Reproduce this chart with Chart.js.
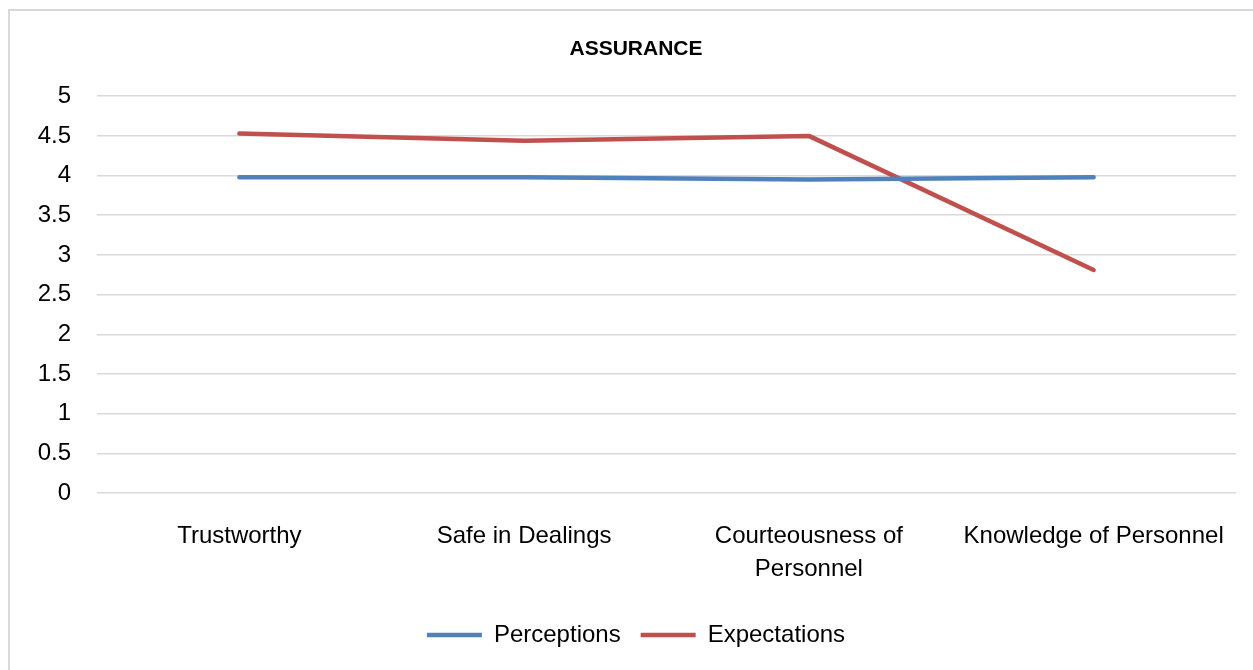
<!DOCTYPE html>
<html>
<head>
<meta charset="utf-8">
<script src="https://cdn.jsdelivr.net/npm/chart.js@4.4.1/dist/chart.umd.min.js"></script>
<style>
  html, body { margin:0; padding:0; background:#fff; }
  #wrap { position:relative; width:1253px; height:670px; }
  #frame { position:absolute; left:8px; top:9px; width:1243px; height:659px; border:2px solid #d9d9d9; pointer-events:none; }
  canvas { position:absolute; left:0; top:0; }
</style>
</head>
<body>
<div id="wrap">
  <canvas id="chart" width="1253" height="670"></canvas>
  <div id="frame"></div>
</div>
<script>
const categories = ["Trustworthy", "Safe in Dealings", ["Courteousness of", "Personnel"], "Knowledge of Personnel"];
const perceptions = [3.98, 3.98, 3.95, 3.98];
const expectations = [4.53, 4.44, 4.50, 2.81];
const yTicks = [0, 0.5, 1, 1.5, 2, 2.5, 3, 3.5, 4, 4.5, 5];

const FONT = "'Liberation Sans', Arial, sans-serif";

const ctx = document.getElementById("chart").getContext("2d");
new Chart(ctx, {
  type: "line",
  data: {
    labels: categories,
    datasets: [
      {
        label: "Perceptions",
        data: perceptions,
        borderColor: "#4f81bd",
        backgroundColor: "#4f81bd",
        borderWidth: 4.5,
        borderCapStyle: "round",
        borderJoinStyle: "round",
        pointRadius: 0,
        tension: 0
      },
      {
        label: "Expectations",
        data: expectations,
        borderColor: "#c0504d",
        backgroundColor: "#c0504d",
        borderWidth: 4.5,
        borderCapStyle: "round",
        borderJoinStyle: "round",
        pointRadius: 0,
        tension: 0
      }
    ]
  },
  options: {
    responsive: false,
    animation: false,
    layout: { padding: { top: 37, right: 17, bottom: 13, left: 36 } },
    plugins: {
      title: {
        display: true,
        text: "ASSURANCE",
        color: "#000",
        font: { family: FONT, size: 21, weight: "bold" },
        padding: { top: 0, bottom: 34 }
      },
      legend: {
        position: "bottom",
        labels: {
          usePointStyle: true,
          pointStyle: "line",
          pointStyleWidth: 55,
          boxHeight: 5,
          color: "#000",
          font: { family: FONT, size: 24 },
          padding: 20
        }
      },
      tooltip: { enabled: false }
    },
    scales: {
      x: {
        offset: true,
        grid: { display: false, drawTicks: false },
        border: { display: false },
        ticks: {
          color: "#000",
          font: { family: FONT, size: 24, lineHeight: 1.375 },
          padding: 27,
          maxRotation: 0,
          autoSkip: false
        },
        afterFit: (axis) => { axis.height = 110; }
      },
      y: {
        min: 0,
        max: 5,
        afterBuildTicks: (axis) => { axis.ticks = yTicks.map(v => ({ value: v })); },
        grid: { color: "#d9d9d9", lineWidth: 1.5, drawTicks: false },
        border: { display: false },
        ticks: {
          color: "#000",
          font: { family: FONT, size: 24 },
          padding: 26,
          callback: (v) => String(v)
        },
        afterFit: (axis) => { axis.width = 61; }
      }
    }
  }
});
</script>
</body>
</html>
